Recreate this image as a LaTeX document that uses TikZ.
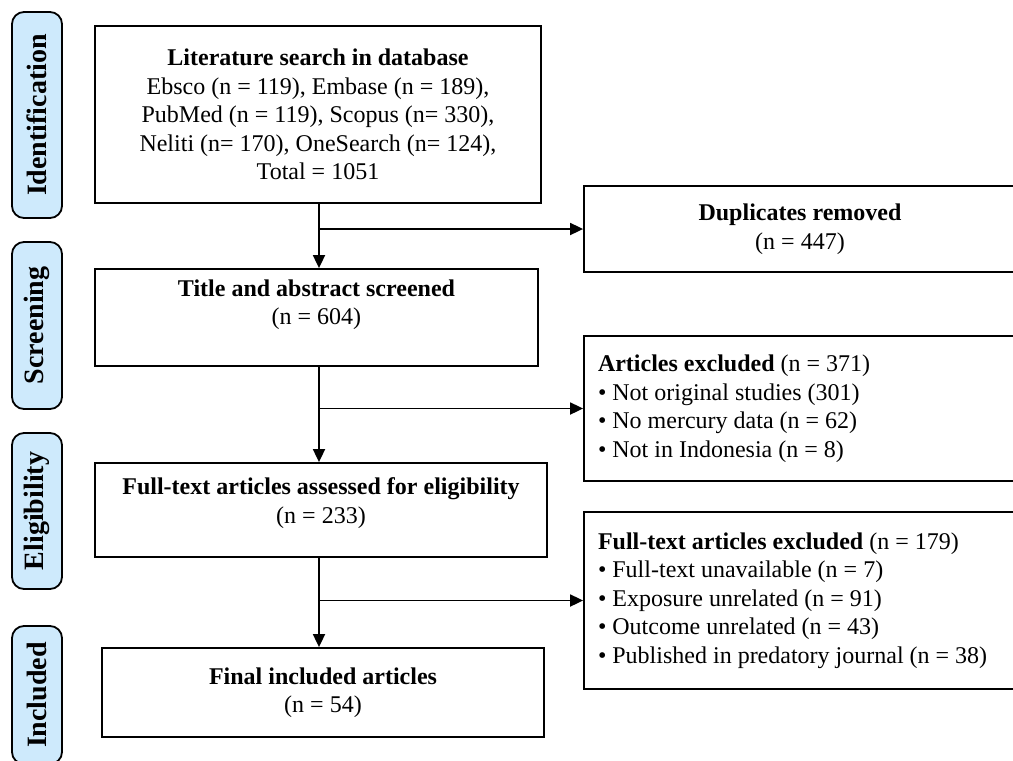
\documentclass[tikz,border=0pt]{standalone}
\usepackage{fontspec}
\setmainfont{Liberation Serif}
\usetikzlibrary{arrows.meta}
\definecolor{PhaseBlue}{RGB}{206,234,252}

\begin{document}
\begin{tikzpicture}[x=1pt,y=-1pt,font=\fontsize{24}{28.5}\selectfont,
  box/.style={draw,line width=1.8pt,rectangle,align=center,inner sep=0pt},
  sidebox/.style={box,text width=404pt,align=flush left,minimum width=432pt},
  phase/.style={draw,line width=1.8pt,fill=PhaseBlue,rounded corners=12pt,rotate=90,minimum height=50pt,inner sep=0pt,font=\fontsize{28}{30}\selectfont\bfseries},
  arr/.style={line width=1.8pt,-{Triangle[length=13pt,width=12pt]}}]
    \useasboundingbox (0,0) rectangle (1013,761);
    % phases down the left
    \foreach \y/\h/\t in %
    {115/206/Identification,325.5/167/Screening,511/156/Eligibility,695/138/Included} {
       \node[phase,minimum width=\h pt] (p\t) at (37,\y) {\t};
    }
    % main column
    \node[box,minimum width=446pt,minimum height=177pt] (lit) at (318,114.5)
       {\textbf{Literature search in database}\\
        Ebsco (n = 119), Embase (n = 189),\\
        PubMed (n = 119), Scopus (n= 330),\\
        Neliti (n= 170), OneSearch (n= 124),\\
        Total = 1051};
    \node[box,minimum width=443pt,minimum height=97pt,text depth=31pt] (scr) at (316.5,317.5)
       {\textbf{Title and abstract screened}\\(n = 604)};
    \node[box,minimum width=452pt,minimum height=94pt,text depth=19pt] (elig) at (321,510)
       {\textbf{Full-text articles assessed for eligibility}\\(n = 233)};
    \node[box,minimum width=442pt,minimum height=89pt] (incl) at (323,692.5)
       {\textbf{Final included articles}\\(n = 54)};
    % exclusions on the right
    \node[box,minimum width=432pt,minimum height=86pt] (dup) at (800,229)
       {\textbf{Duplicates removed}\\(n = 447)};
    \node[sidebox,minimum height=145pt] (exc1) at (800,408.5)
       {\textbf{Articles excluded} (n = 371)\\
        • Not original studies (301)\\
        • No mercury data (n = 62)\\
        • Not in Indonesia (n = 8)};
    \node[sidebox,minimum height=177pt] (exc2) at (800,600.5)
       {\textbf{Full-text articles excluded} (n = 179)\\
        • Full-text unavailable (n = 7)\\
        • Exposure unrelated (n = 91)\\
        • Outcome unrelated (n = 43)\\
        • Published in predatory journal (n = 38)};
    \coordinate (trunk) at (319,0);
    \draw[arr] (lit.south -| trunk) -- (scr.north -| trunk);
    \draw[arr] (scr.south -| trunk) -- (elig.north -| trunk);
    \draw[arr] (elig.south -| trunk) -- (incl.north -| trunk);
    \draw[arr] (dup.west -| trunk) -- (dup.west);
    \draw[arr] (exc1.west -| trunk) -- (exc1.west);
    \draw[arr] (exc2.west -| trunk) -- (exc2.west);
\end{tikzpicture}
\end{document}
